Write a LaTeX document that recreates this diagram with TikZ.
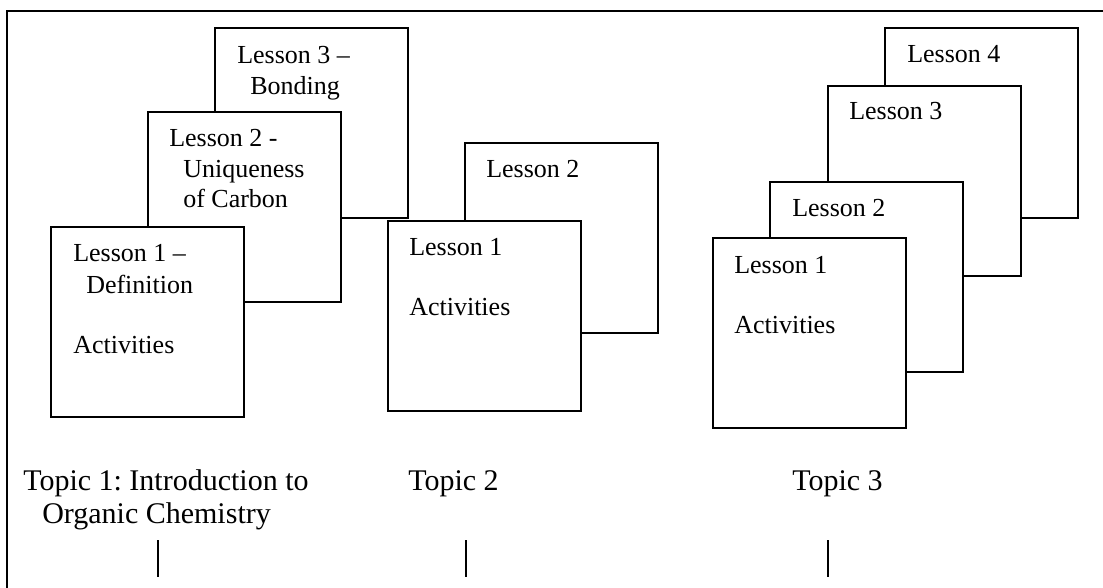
\documentclass[tikz,border=0pt]{standalone}
\usepackage{fontspec}
\setmainfont{Liberation Serif}
\frenchspacing
\begin{document}
\begin{tikzpicture}[x=0.75pt,y=-0.75pt,
  lbox/.style={draw=black, fill=white, line width=1.5pt, anchor=north west,
    minimum width=144.75pt, minimum height=142.5pt, inner sep=0pt, outer sep=0pt},
  ltxt/.style={anchor=base west, inner sep=0pt, font=\fontsize{19.5pt}{23pt}\selectfont},
  ttxt/.style={anchor=base west, inner sep=0pt, font=\fontsize{22.5pt}{26pt}\selectfont},
  tick/.style={line width=0.8pt},
  frame/.style={line width=1pt}]
\useasboundingbox (0,0) rectangle (1103,588);
% frame
\coordinate (fa) at (7,588);
\coordinate (fb) at (7,11);
\coordinate (fc) at (1103,11);
\draw[frame] (fa) -- (fb) -- (fc);
% Topic 1
\node[lbox] (t1l3) at (215,28) {};
\node[ltxt] (t1l3a) at (237,64) {Lesson 3 –};
\node[ltxt] (t1l3b) at (250,95) {Bonding};
\node[lbox] (t1l2) at (148,112) {};
\node[ltxt] (t1l2a) at (169,147) {Lesson 2 -};
\node[ltxt] (t1l2b) at (183,178) {Uniqueness};
\node[ltxt] (t1l2c) at (183,208) {of Carbon};
\node[lbox] (t1l1) at (51,227) {};
\node[ltxt] (t1l1a) at (73,262) {Lesson 1 –};
\node[ltxt] (t1l1b) at (86,293) {Definition};
\node[ltxt] (t1l1c) at (73,353) {Activities};
% Topic 2
\node[lbox] (t2l2) at (465,143) {};
\node[ltxt] (t2l2a) at (486,178) {Lesson 2};
\node[lbox] (t2l1) at (388,221) {};
\node[ltxt] (t2l1a) at (409,255) {Lesson 1};
\node[ltxt] (t2l1b) at (409,315) {Activities};
% Topic 3
\node[lbox] (t3l4) at (885,28) {};
\node[ltxt] (t3l4a) at (907,63) {Lesson 4};
\node[lbox] (t3l3) at (828,86) {};
\node[ltxt] (t3l3a) at (849,120) {Lesson 3};
\node[lbox] (t3l2) at (770,182) {};
\node[ltxt] (t3l2a) at (792,216) {Lesson 2};
\node[lbox] (t3l1) at (713,238) {};
\node[ltxt] (t3l1a) at (734,273) {Lesson 1};
\node[ltxt] (t3l1b) at (734,333) {Activities};
% topic labels
\node[ttxt] (top1a) at (23,490) {Topic 1: Introduction to};
\node[ttxt] (top1b) at (42,523) {Organic Chemistry};
\node[ttxt] (top2) at (408,490) {Topic 2};
\node[ttxt] (top3) at (792,490) {Topic 3};
% ticks
\coordinate (k1a) at (158,540); \coordinate (k1b) at (158,577);
\coordinate (k2a) at (466,540); \coordinate (k2b) at (466,577);
\coordinate (k3a) at (828,540); \coordinate (k3b) at (828,577);
\draw[tick] (k1a) -- (k1b);
\draw[tick] (k2a) -- (k2b);
\draw[tick] (k3a) -- (k3b);
\end{tikzpicture}
\end{document}
